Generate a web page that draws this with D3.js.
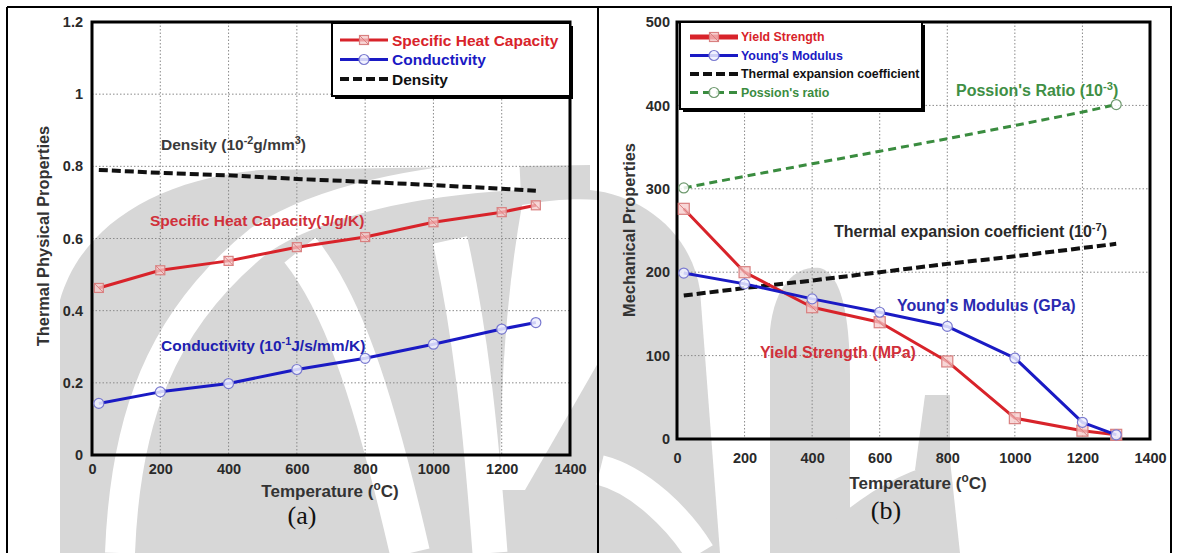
<!DOCTYPE html>
<html>
<head>
<meta charset="utf-8">
<script src="https://cdn.jsdelivr.net/npm/d3@7"></script>
<style>
  html, body { margin: 0; padding: 0; background: #fff; }
  svg { display: block; }
  text { font-family: "Liberation Sans", Arial, sans-serif; }
</style>
</head>
<body>
<svg id="fig" width="1178" height="553"></svg>
<script>
// ---- Panel (a): thermal physical properties ----
const tempsA = [20, 200, 400, 600, 800, 1000, 1200, 1300];
const specificHeat = [0.463, 0.512, 0.538, 0.576, 0.604, 0.645, 0.673, 0.692];
const conductivity = [0.143, 0.175, 0.198, 0.237, 0.268, 0.307, 0.349, 0.367];
const density = [0.790, 0.782, 0.775, 0.765, 0.757, 0.748, 0.738, 0.732];
const xTicksA = [0, 200, 400, 600, 800, 1000, 1200, 1400];
const yTicksA = [0, 0.2, 0.4, 0.6, 0.8, 1, 1.2];

// ---- Panel (b): mechanical properties ----
const tempsB = [20, 200, 400, 600, 800, 1000, 1200, 1300];
const yieldStrength = [276, 200, 158, 140, 93, 25, 10, 5];
const youngsModulus = [199, 186, 168, 152, 135, 97, 20, 5];
const thermalExpansion = [172, 181, 190, 200, 210, 219, 229, 234];
const poissonRatio = [301, 315, 330, 345, 360, 376, 392, 401];
const xTicksB = [0, 200, 400, 600, 800, 1000, 1200, 1400];
const yTicksB = [0, 100, 200, 300, 400, 500];

const svg = d3.select("#fig");

// ---- background watermark (light grey emblem behind the figure) ----
const wm = svg.append("g").attr("fill", "#d7d7d7").attr("stroke", "none");
const wmShapes = [
  "M60,553 L60,300 C80,230 150,180 260,170 L590,165 L590,553 Z",
  "M590,553 L590,190 C640,195 690,230 700,290 L720,553 Z",
  "M770,553 L770,330 C775,280 800,265 820,268 C845,275 850,330 850,380 L850,553 Z",
  "M800,553 C850,500 900,470 950,460 L960,553 Z",
  "M915,470 L925,395 L950,395 L950,470 Z"
];
wm.selectAll("path").data(wmShapes).join("path").attr("d", d => d);
const wmWhite = svg.append("g").attr("fill", "none").attr("stroke", "#fff").attr("stroke-linecap", "butt");
const whiteBands = [
  {d: "M120,553 C125,420 160,320 260,240 C320,200 420,180 520,175", w: 30},
  {d: "M300,250 C340,300 370,380 410,553", w: 40},
  {d: "M450,240 C470,330 480,420 490,553", w: 35},
  {d: "M735,553 C740,420 750,320 770,250", w: 28},
  {d: "M600,470 C640,480 680,520 700,553", w: 30}
];
wmWhite.selectAll("path").data(whiteBands).join("path")
  .attr("d", d => d.d).attr("stroke-width", d => d.w);
svg.append("path").attr("fill", "#fff")
  .attr("d", "M522,205 C550,200 575,198 598,200 L598,363 L525,490 L500,490 C500,400 505,300 522,205 Z");

// ---- outer frame ----
const frame = svg.append("g").attr("stroke", "#000").attr("stroke-width", 2).attr("fill", "none");
frame.append("line").attr("x1", 7).attr("x2", 1172).attr("y1", 7).attr("y2", 7);
frame.append("line").attr("x1", 7).attr("x2", 7).attr("y1", 7).attr("y2", 553);
frame.append("line").attr("x1", 598).attr("x2", 598).attr("y1", 7).attr("y2", 553);
frame.append("line").attr("x1", 1171).attr("x2", 1171).attr("y1", 7).attr("y2", 553);

function drawPanel(cfg) {
  const g = svg.append("g");
  const x = d3.scaleLinear().domain([0, 1400]).range([cfg.left, cfg.right]);
  const y = d3.scaleLinear().domain(cfg.yDomain).range([cfg.bottom, cfg.top]);

  const grid = g.append("g").attr("stroke", "#8a8a8a").attr("stroke-width", 1)
    .attr("stroke-dasharray", "1.5,2");
  grid.selectAll("line.v").data(cfg.xTicks.slice(1, -1)).join("line").attr("class", "v")
    .attr("x1", d => x(d)).attr("x2", d => x(d)).attr("y1", cfg.top).attr("y2", cfg.bottom);
  grid.selectAll("line.h").data(cfg.yTicks.slice(1, -1)).join("line").attr("class", "h")
    .attr("y1", d => y(d)).attr("y2", d => y(d)).attr("x1", cfg.left).attr("x2", cfg.right);

  const xAxis = d3.axisBottom(x).tickValues(cfg.xTicks).tickSize(0).tickPadding(cfg.xPad)
    .tickFormat(d3.format("d"));
  const yAxis = d3.axisLeft(y).tickValues(cfg.yTicks).tickSize(0).tickPadding(cfg.yPad)
    .tickFormat(cfg.yFormat);
  const gx = g.append("g").attr("transform", `translate(0,${cfg.bottom})`).call(xAxis);
  const gy = g.append("g").attr("transform", `translate(${cfg.left},0)`).call(yAxis);
  [gx, gy].forEach(a => {
    a.select(".domain").remove();
    a.selectAll("text").attr("font-size", 14.5).attr("font-weight", "bold")
      .attr("fill", "#2a2a2a").style("font-family", "'Liberation Sans', Arial, sans-serif");
  });

  g.append("rect").attr("x", cfg.left).attr("y", cfg.top)
    .attr("width", cfg.right - cfg.left).attr("height", cfg.bottom - cfg.top)
    .attr("fill", "none").attr("stroke", "#000").attr("stroke-width", 3);

  return {g, x, y};
}

function drawSeries(p, xs, ys, style) {
  const line = d3.line().x((d, i) => p.x(xs[i])).y(d => p.y(d));
  p.g.append("path").datum(ys).attr("d", line)
    .attr("fill", "none").attr("stroke", style.color).attr("stroke-width", style.width)
    .attr("stroke-dasharray", style.dash || null).attr("stroke-linejoin", "round");
  if (!style.marker) return;
  const idx = style.markerIdx || ys.map((d, i) => i);
  idx.forEach(i => drawMarker(p.g, p.x(xs[i]), p.y(ys[i]), style));
}

function drawMarker(g, cx, cy, style) {
  if (style.marker === "square") {
    const s = style.msize || 9;
    g.append("rect").attr("x", cx - s / 2).attr("y", cy - s / 2).attr("width", s).attr("height", s)
      .attr("fill", style.mfill).attr("fill-opacity", 0.75)
      .attr("stroke", style.mstroke).attr("stroke-width", 1.2);
    g.append("line").attr("x1", cx - s / 2).attr("y1", cy - s / 2)
      .attr("x2", cx + s / 2).attr("y2", cy + s / 2)
      .attr("stroke", style.mstroke).attr("stroke-width", 1);
  } else if (style.marker === "circle") {
    g.append("circle").attr("cx", cx).attr("cy", cy).attr("r", style.msize || 5)
      .attr("fill", style.mfill).attr("fill-opacity", 0.85)
      .attr("stroke", style.mstroke).attr("stroke-width", 1.2);
  }
}

function drawLegend(box, rows, fontSize) {
  const lg = svg.append("g");
  lg.append("rect").attr("x", box.x + 3).attr("y", box.y + 3).attr("width", box.w).attr("height", box.h)
    .attr("fill", "#000");
  lg.append("rect").attr("x", box.x).attr("y", box.y).attr("width", box.w).attr("height", box.h)
    .attr("fill", "#fff").attr("stroke", "#000").attr("stroke-width", 2);
  rows.forEach((r, i) => {
    const yy = box.y + box.first + i * box.step;
    lg.append("line").attr("x1", box.x + box.lx0).attr("x2", box.x + box.lx1)
      .attr("y1", yy).attr("y2", yy).attr("stroke", r.style.color)
      .attr("stroke-width", r.style.legendWidth || r.style.width)
      .attr("stroke-dasharray", r.style.dash || null);
    if (r.style.marker) drawMarker(lg, box.x + (box.lx0 + box.lx1) / 2, yy, r.style);
    lg.append("text").attr("x", box.x + box.tx).attr("y", yy).attr("dy", "0.36em")
      .attr("font-size", fontSize).attr("font-weight", "bold").attr("fill", r.textColor)
      .text(r.label);
  });
}

function richText(g, x, y, parts, attrs) {
  const t = g.append("text").attr("x", x).attr("y", y);
  Object.entries(attrs).forEach(([k, v]) => t.attr(k, v));
  parts.forEach(p => {
    const ts = t.append("tspan").text(p.t);
    if (p.sup) ts.attr("baseline-shift", "super").attr("font-size", "70%");
  });
  return t;
}

// ---- styles ----
const redStyle = {color: "#d8232a", width: 3, marker: "square", msize: 9, mfill: "#f6c9c9", mstroke: "#d98080"};
const blueStyle = {color: "#1a1ac4", width: 3, marker: "circle", msize: 5, mfill: "#eef0ff", mstroke: "#7a7ad0"};
const blackDash = {color: "#111", width: 4, dash: "9,4"};
const greenDash = {color: "#3a8c3f", width: 3, dash: "8,5", marker: "circle", msize: 5,
  mfill: "#fff", mstroke: "#6f9a6f", markerIdx: [0, 7]};

// ---- panel (a) ----
const pa = drawPanel({left: 92, right: 570, top: 22, bottom: 455, yDomain: [0, 1.2], xPad: 9, yPad: 9,
  xTicks: xTicksA, yTicks: yTicksA, yFormat: d => d3.format("~g")(d)});
drawSeries(pa, tempsA, density, blackDash);
drawSeries(pa, tempsA, specificHeat, redStyle);
drawSeries(pa, tempsA, conductivity, blueStyle);

const annA = {"font-size": 15.5, "font-weight": "bold"};
richText(pa.g, 161, 150, [{t: "Density (10"}, {t: "-2", sup: true}, {t: "g/mm"}, {t: "3", sup: true}, {t: ")"}],
  Object.assign({fill: "#3a3a3a"}, annA));
richText(pa.g, 150, 226, [{t: "Specific Heat Capacity(J/g/K)"}], Object.assign({fill: "#d0303a"}, annA));
richText(pa.g, 161, 351, [{t: "Conductivity (10"}, {t: "-1", sup: true}, {t: "J/s/mm/K)"}],
  Object.assign({fill: "#2020b0"}, annA));

drawLegend({x: 332, y: 23, w: 238, h: 73, first: 17, step: 19.5, lx0: 8, lx1: 56, tx: 60},
  [{label: "Specific Heat Capacity", style: redStyle, textColor: "#d8232a"},
   {label: "Conductivity", style: blueStyle, textColor: "#1a1ac4"},
   {label: "Density", style: blackDash, textColor: "#111"}], 15.5);

svg.append("text").attr("transform", "translate(49,236) rotate(-90)").attr("text-anchor", "middle")
  .attr("font-size", 16.4).attr("font-weight", "bold").attr("fill", "#333").text("Thermal Physical Properties");
richText(svg, 330, 497, [{t: "Temperature ("}, {t: "o", sup: true}, {t: "C)"}],
  {"font-size": 17, "font-weight": "bold", fill: "#333", "text-anchor": "middle"});
svg.append("text").attr("x", 302).attr("y", 524).attr("text-anchor", "middle")
  .style("font-family", "'Liberation Serif', 'Times New Roman', serif").attr("font-size", 26)
  .attr("fill", "#111").text("(a)");

// ---- panel (b) ----
const pb = drawPanel({left: 677, right: 1150, top: 22, bottom: 439, yDomain: [0, 500], xPad: 14, yPad: 7,
  xTicks: xTicksB, yTicks: yTicksB, yFormat: d3.format("d")});
drawSeries(pb, tempsB, poissonRatio, greenDash);
drawSeries(pb, tempsB, thermalExpansion, blackDash);
const redB = Object.assign({}, redStyle, {msize: 11});
drawSeries(pb, tempsB, yieldStrength, redB);
drawSeries(pb, tempsB, youngsModulus, blueStyle);

const annB = {"font-size": 16, "font-weight": "bold"};
richText(pb.g, 956, 96, [{t: "Possion's Ratio (10"}, {t: "-3", sup: true}, {t: ")"}],
  Object.assign({fill: "#3f8f45"}, annB));
richText(pb.g, 834, 237, [{t: "Thermal expansion coefficient (10"}, {t: "-7", sup: true}, {t: ")"}],
  Object.assign({fill: "#2a2a2a"}, annB));
richText(pb.g, 897, 311, [{t: "Young's Modulus (GPa)"}], Object.assign({fill: "#2a2ab0"}, annB));
richText(pb.g, 760, 358, [{t: "Yield Strength (MPa)"}], Object.assign({fill: "#d0303a"}, annB));

drawLegend({x: 680, y: 22, w: 242, h: 87, first: 15, step: 18.5, lx0: 10, lx1: 58, tx: 61},
  [{label: "Yield Strength", style: Object.assign({}, redStyle, {legendWidth: 5}), textColor: "#d8232a"},
   {label: "Young's Modulus", style: blueStyle, textColor: "#1a1ac4"},
   {label: "Thermal expansion coefficient", style: blackDash, textColor: "#111"},
   {label: "Possion's ratio", style: greenDash, textColor: "#3a8c3f"}], 12.4);

svg.append("text").attr("transform", "translate(635,230) rotate(-90)").attr("text-anchor", "middle")
  .attr("font-size", 16.4).attr("font-weight", "bold").attr("fill", "#333").text("Mechanical Properties");
richText(svg, 918, 489, [{t: "Temperature ("}, {t: "o", sup: true}, {t: "C)"}],
  {"font-size": 17, "font-weight": "bold", fill: "#333", "text-anchor": "middle"});
svg.append("text").attr("x", 886).attr("y", 519).attr("text-anchor", "middle")
  .style("font-family", "'Liberation Serif', 'Times New Roman', serif").attr("font-size", 26)
  .attr("fill", "#111").text("(b)");
</script>
</body>
</html>
